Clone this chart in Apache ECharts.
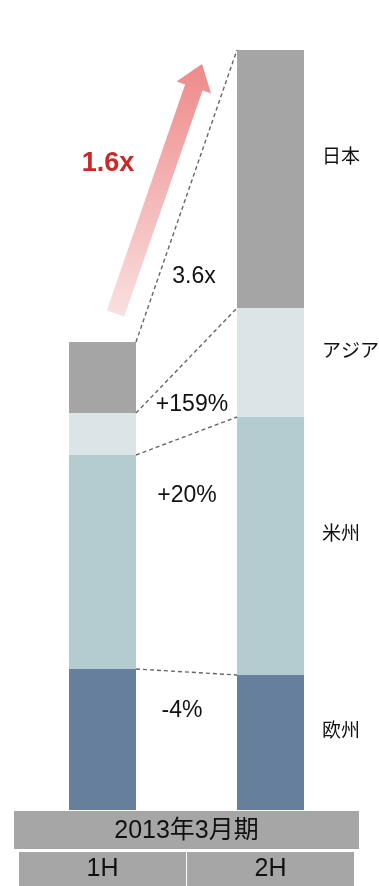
<!DOCTYPE html>
<html>
<head>
<meta charset="utf-8">
<script src="https://cdn.jsdelivr.net/npm/echarts@6/dist/echarts.min.js"></script>
<style>
  html, body { margin: 0; padding: 0; background: #fff; }
  #chart { width: 379px; height: 886px; }
</style>
</head>
<body>
<div id="chart"></div>
<script>
// Half-year periods
const periods = ['1H', '2H'];
// Sales by region, stacked bottom to top
const europe = [141, 135];
const americas = [214, 258];
const asia = [42, 109];
const japan = [71, 258];
// Region names (bottom to top)
const regionNames = ['欧州', '米州', 'アジア', '日本'];
// Change labels between the two halves (bottom to top)
const changeLabels = ['-4%', '+20%', '+159%', '3.6x'];
const totalGrowth = '1.6x';
const fiscalTitle = '2013年3月期';

const FONT = "'Liberation Sans', Arial, 'Noto Sans CJK JP', sans-serif";
const colors = ['#667f9c', '#b4cbd0', '#dbe5e8', '#a5a5a5'];
const regionSeries = [europe, americas, asia, japan];
const BAR_W = 67;

// Cumulative tops for the connector lines
const connectors = [];
let c1 = 0, c2 = 0;
regionSeries.forEach(s => {
  c1 += s[0]; c2 += s[1];
  connectors.push([0, c1, c2]);
});

const nameOffsets = [[0, -11], [0, -11], [0, -11], [0, -21]];

const barSeries = regionSeries.map((vals, i) => ({
  type: 'bar',
  name: regionNames[i],
  stack: 'total',
  barWidth: BAR_W,
  itemStyle: { color: colors[i] },
  emphasis: { disabled: true },
  data: vals.map((v, j) => j === 1 ? {
    value: v,
    label: {
      show: true,
      position: 'right',
      distance: 18,
      offset: nameOffsets[i],
      formatter: '{a}',
      color: '#111',
      fontSize: 19,
      fontFamily: FONT
    }
  } : v)
}));

const chart = echarts.init(document.getElementById('chart'), null, { renderer: 'canvas' });

function note(text, x, y) {
  return {
    type: 'text', x: x, y: y,
    style: { text: text, fontSize: 23, fontFamily: FONT, fill: '#111', align: 'center', verticalAlign: 'middle' }
  };
}

chart.setOption({
  animation: false,
  backgroundColor: '#ffffff',
  grid: { left: 18.5, right: 24.5, top: 50, bottom: 76 },
  xAxis: {
    type: 'category',
    data: periods,
    axisLine: { show: false },
    axisTick: { show: false },
    axisLabel: {
      margin: 42,
      backgroundColor: '#a6a6a6',
      width: 167,
      height: 34,
      lineHeight: 34,
      align: 'center',
      color: '#111',
      fontSize: 25,
      fontFamily: FONT
    }
  },
  yAxis: {
    type: 'value',
    min: 0,
    max: 760,
    show: false,
    splitLine: { show: false }
  },
  series: barSeries.concat([{
    type: 'custom',
    silent: true,
    z: 5,
    encode: { x: 0, y: [1, 2] },
    data: connectors,
    renderItem: function (params, api) {
      const p1 = api.coord([0, api.value(1)]);
      const p2 = api.coord([1, api.value(2)]);
      return {
        type: 'line',
        shape: { x1: p1[0] + BAR_W / 2, y1: p1[1], x2: p2[0] - BAR_W / 2, y2: p2[1] },
        style: { stroke: '#666', lineWidth: 1.4, lineDash: [4, 3] }
      };
    }
  }]),
  graphic: [
    // Fiscal year header band
    {
      type: 'rect',
      shape: { x: 14, y: 811, width: 345, height: 38 },
      style: { fill: '#a6a6a6' }
    },
    {
      type: 'text',
      x: 186.5, y: 831,
      style: { text: fiscalTitle, fontSize: 25, fontFamily: FONT, fill: '#111', align: 'center', verticalAlign: 'middle' }
    },
    // Growth arrow
    {
      type: 'polygon',
      shape: {
        points: [[106.8, 310.5], [185.1, 84.6], [176.5, 81.6], [202, 64], [211.1, 93.6], [202.5, 90.6], [124.2, 316.5]]
      },
      style: {
        fill: {
          type: 'linear', x: 0, y: 0, x2: 0, y2: 1,
          colorStops: [{ offset: 0, color: '#ee8a8a' }, { offset: 1, color: '#f9e0e0' }]
        }
      }
    },
    {
      type: 'text',
      x: 108, y: 164,
      style: { text: totalGrowth, fontSize: 27, fontWeight: 'bold', fontFamily: FONT, fill: '#cc2828', align: 'center', verticalAlign: 'middle' }
    },
    // Change annotations
    note(changeLabels[3], 194, 277),
    note(changeLabels[2], 192, 405),
    note(changeLabels[1], 187, 496),
    note(changeLabels[0], 182, 711)
  ]
});
</script>
</body>
</html>
